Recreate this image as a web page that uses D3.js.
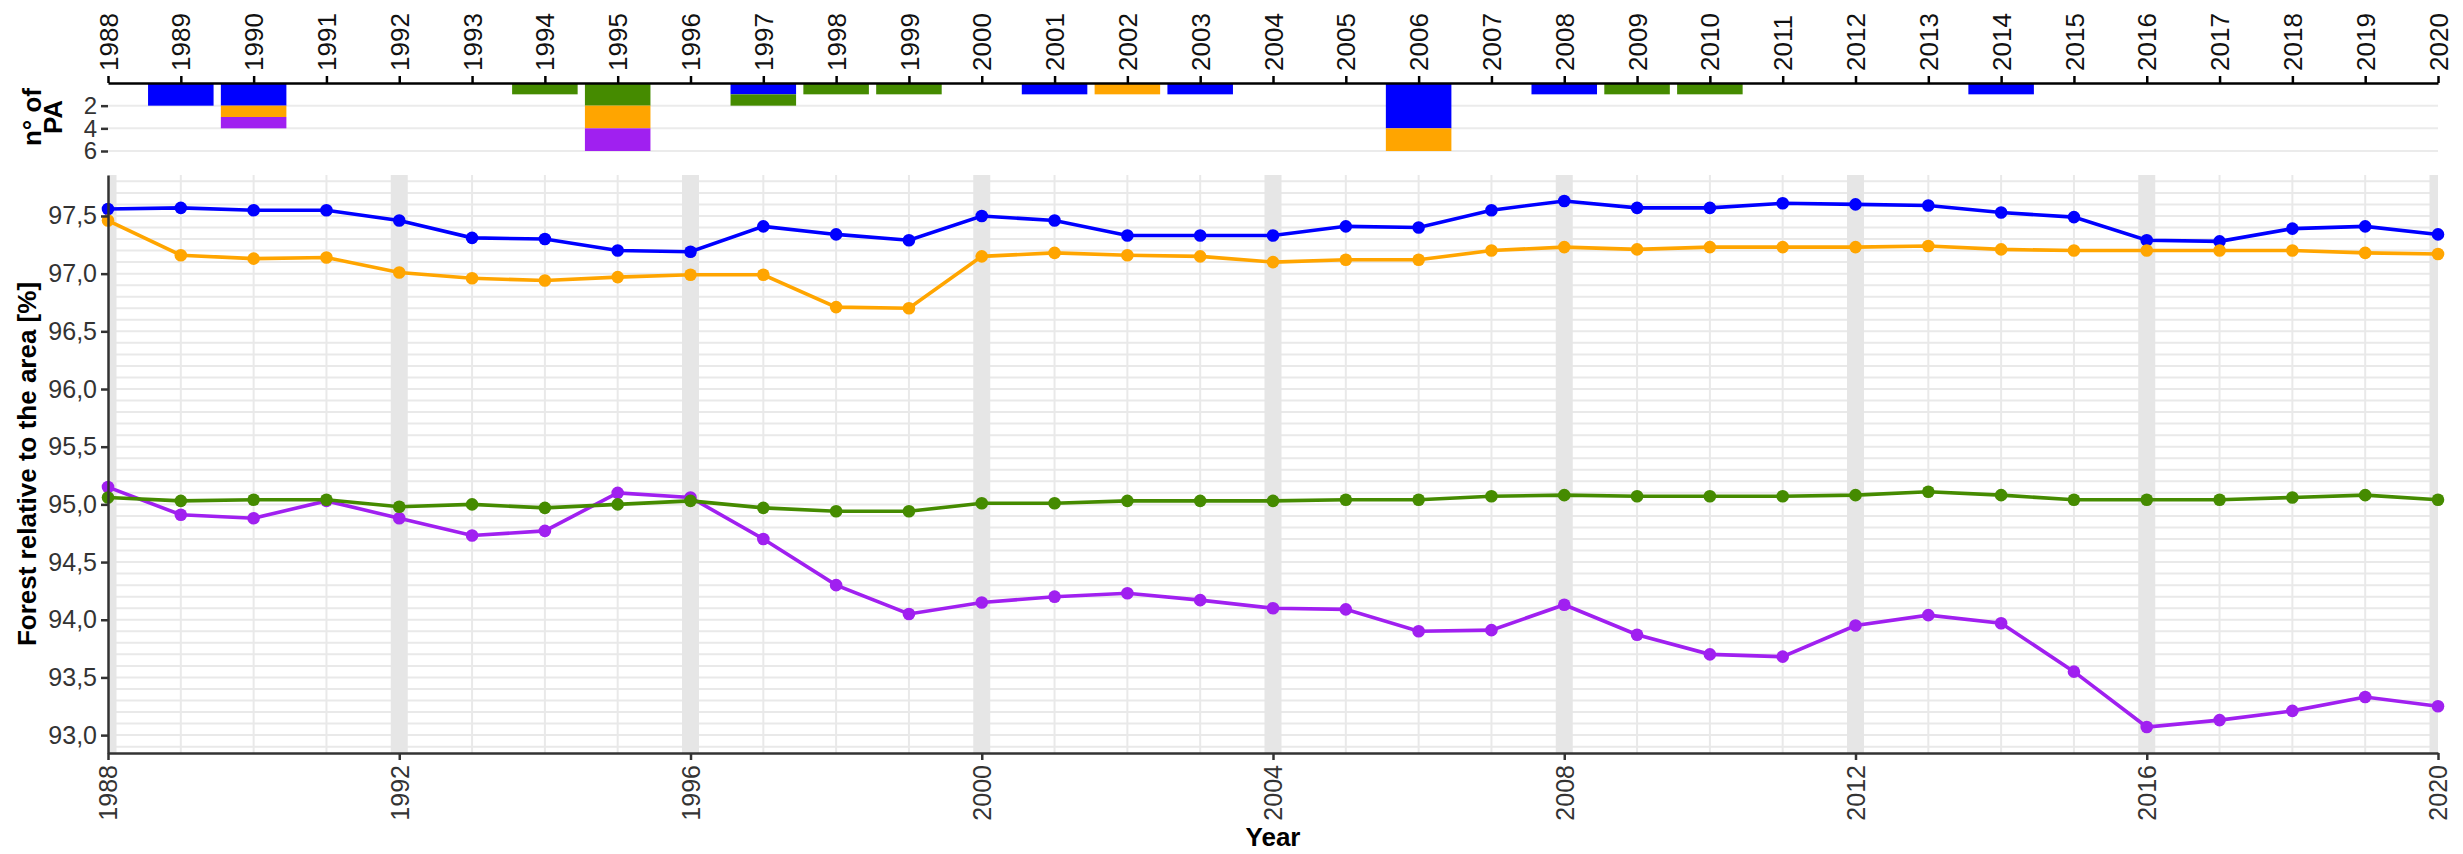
<!DOCTYPE html>
<html>
<head>
<meta charset="utf-8">
<script src="https://cdn.jsdelivr.net/npm/d3@7/dist/d3.min.js"></script>
<style>
    body { margin: 0; background: #fff; }
    text { font-family: "Liberation Sans", Arial, sans-serif; }
</style>
</head>
<body>
<div id="chart"></div>
<script>
// Data
var years = [1988, 1989, 1990, 1991, 1992, 1993, 1994, 1995, 1996, 1997, 1998, 1999, 2000,
             2001, 2002, 2003, 2004, 2005, 2006, 2007, 2008, 2009, 2010, 2011, 2012, 2013,
             2014, 2015, 2016, 2017, 2018, 2019, 2020];

var forestBlue = [97.56, 97.57, 97.55, 97.55, 97.46, 97.31, 97.30, 97.20, 97.19, 97.41, 97.34, 97.29, 97.50,
                  97.46, 97.33, 97.33, 97.33, 97.41, 97.40, 97.55, 97.63, 97.57, 97.57, 97.61, 97.60, 97.59,
                  97.53, 97.49, 97.29, 97.28, 97.39, 97.41, 97.34];
var forestOrange = [97.46, 97.16, 97.13, 97.14, 97.01, 96.96, 96.94, 96.97, 96.99, 96.99, 96.71, 96.70, 97.15,
                    97.18, 97.16, 97.15, 97.10, 97.12, 97.12, 97.20, 97.23, 97.21, 97.23, 97.23, 97.23, 97.24,
                    97.21, 97.20, 97.20, 97.20, 97.20, 97.18, 97.17];
var forestGreen = [95.06, 95.03, 95.04, 95.04, 94.98, 95.00, 94.97, 95.00, 95.03, 94.97, 94.94, 94.94, 95.01,
                   95.01, 95.03, 95.03, 95.03, 95.04, 95.04, 95.07, 95.08, 95.07, 95.07, 95.07, 95.08, 95.11,
                   95.08, 95.04, 95.04, 95.04, 95.06, 95.08, 95.04];
var forestPurple = [95.15, 94.91, 94.88, 95.03, 94.88, 94.73, 94.77, 95.10, 95.06, 94.70, 94.30, 94.05, 94.15,
                    94.20, 94.23, 94.17, 94.10, 94.09, 93.90, 93.91, 94.13, 93.87, 93.70, 93.68, 93.95, 94.04,
                    93.97, 93.55, 93.07, 93.13, 93.21, 93.33, 93.25];

// number of protected areas per year (stacked bars)
var paYears  = [1989, 1990, 1994, 1995, 1997, 1998, 1999, 2001, 2002, 2003, 2006, 2008, 2009, 2010, 2014];
var paBlue   = [2, 2, 0, 0, 1, 0, 0, 1, 0, 1, 4, 1, 0, 0, 1];
var paGreen  = [0, 0, 1, 2, 1, 1, 1, 0, 0, 0, 0, 0, 1, 1, 0];
var paOrange = [0, 1, 0, 2, 0, 0, 0, 0, 1, 0, 2, 0, 0, 0, 0];
var paPurple = [0, 1, 0, 2, 0, 0, 0, 0, 0, 0, 0, 0, 0, 0, 0];

var seriesKeys = ['blue', 'green', 'orange', 'purple'];
var seriesColors = {blue: '#0000ff', green: '#458b00', orange: '#ffa500', purple: '#a020f0'};

var yTicks = [93.0, 93.5, 94.0, 94.5, 95.0, 95.5, 96.0, 96.5, 97.0, 97.5];
var xMainTicks = [1988, 1992, 1996, 2000, 2004, 2008, 2012, 2016, 2020];
var paTicks = [2, 4, 6];

// Global vars
var svg, xScale, barYScale, mainYScale;
var W = 2463, H = 854;
var plotLeft = 108, plotRight = 2438;
var barTop = 83, barBottom = 151;
var mainTop = 175, mainBottom = 753;

function setupSvg() {
    svg = d3.select('#chart').append('svg')
        .attr('width', W)
        .attr('height', H);

    svg.append('defs').append('clipPath').attr('id', 'main-clip')
        .append('rect')
        .attr('x', plotLeft).attr('y', mainTop)
        .attr('width', plotRight - plotLeft).attr('height', mainBottom - mainTop);

    // Scales setup
    xScale = d3.scaleLinear().domain([1988, 2020]).range([plotLeft, plotRight]);
    barYScale = d3.scaleLinear().domain([0, 6]).range([barTop, barBottom]);
    mainYScale = d3.scaleLinear().domain([92.845, 97.855]).range([mainBottom, mainTop]);
}

function styleAxis(g) {
    g.selectAll('.domain').attr('stroke', '#333').attr('stroke-width', 2.5);
    g.selectAll('.tick line').attr('stroke', '#333').attr('stroke-width', 2.5);
    g.selectAll('.tick text').attr('fill', '#333').style('font-size', '25px');
}

function drawBarChart() {
    var barG = svg.append('g').attr('class', 'bar-chart');

    // horizontal grid
    barG.selectAll('line.grid').data(paTicks).enter().append('line')
        .attr('class', 'grid')
        .attr('x1', plotLeft).attr('x2', plotRight)
        .attr('y1', (d) => barYScale(d)).attr('y2', (d) => barYScale(d))
        .attr('stroke', '#ebebeb').attr('stroke-width', 2);

    var rows = paYears.map(function(y, i) {
        return {year: y, blue: paBlue[i], green: paGreen[i], orange: paOrange[i], purple: paPurple[i]};
    });
    var stacked = d3.stack().keys(seriesKeys)(rows);
    var bw = (xScale(1989) - xScale(1988)) * 0.9;

    barG.selectAll('g.layer').data(stacked).enter().append('g')
        .attr('class', 'layer')
        .attr('fill', (d) => seriesColors[d.key])
        .selectAll('rect').data((d) => d.filter((e) => e[1] > e[0])).enter().append('rect')
        .attr('x', (d) => xScale(d.data.year) - bw / 2)
        .attr('width', bw)
        .attr('y', (d) => barYScale(d[0]))
        .attr('height', (d) => barYScale(d[1]) - barYScale(d[0]));

    // Axis setup
    var topAxis = d3.axisTop(xScale).tickValues(years).tickFormat(d3.format('d')).tickSize(7).tickSizeOuter(0);
    var gTop = barG.append('g').attr('transform', `translate(0,${barTop})`).call(topAxis);
    styleAxis(gTop);
    gTop.selectAll('.domain').attr('stroke', '#000');
    gTop.selectAll('.tick line').attr('stroke', '#000');
    gTop.selectAll('.tick text')
        .attr('fill', '#111')
        .style('font-size', '26px')
        .attr('transform', 'rotate(-90)')
        .attr('x', 12).attr('y', 0).attr('dy', '0.35em')
        .style('text-anchor', 'start');

    var leftAxis = d3.axisLeft(barYScale).tickValues(paTicks).tickFormat(d3.format('d')).tickSize(7).tickPadding(4);
    var gLeft = barG.append('g').attr('transform', `translate(${plotLeft},0)`).call(leftAxis);
    styleAxis(gLeft);
    gLeft.selectAll('.tick text').style('font-size', '24px');
    gLeft.select('.domain').remove();

    // y title
    var title = barG.append('text')
        .attr('transform', `translate(0,${(barTop + barBottom) / 2}) rotate(-90)`)
        .attr('text-anchor', 'middle')
        .style('font-size', '26px').style('font-weight', 'bold').attr('fill', '#000');
    title.append('tspan').attr('x', 0).attr('y', 41).text('n° of');
    title.append('tspan').attr('x', 0).attr('y', 62).text('PA');
}

function drawMainChart() {
    var mainG = svg.append('g').attr('class', 'main-chart');
    var gridG = mainG.append('g').attr('clip-path', 'url(#main-clip)');

    // minor + major horizontal grid, every 0.1
    gridG.selectAll('line.hgrid').data(mainYScale.ticks(50)).enter().append('line')
        .attr('class', 'hgrid')
        .attr('x1', plotLeft).attr('x2', plotRight)
        .attr('y1', (d) => mainYScale(d)).attr('y2', (d) => mainYScale(d))
        .attr('stroke', '#e9e9e9').attr('stroke-width', 2);

    gridG.selectAll('line.vgrid').data(years).enter().append('line')
        .attr('class', 'vgrid')
        .attr('x1', (d) => xScale(d)).attr('x2', (d) => xScale(d))
        .attr('y1', mainTop).attr('y2', mainBottom)
        .attr('stroke', '#e9e9e9').attr('stroke-width', 2);

    // grey bands every 4 years
    gridG.selectAll('rect.band').data(xMainTicks).enter().append('rect')
        .attr('class', 'band')
        .attr('x', (d) => xScale(d) - 8.5).attr('width', 17)
        .attr('y', mainTop).attr('height', mainBottom - mainTop)
        .attr('fill', '#e6e6e6');

    var series = [
        {key: 'blue', values: forestBlue},
        {key: 'orange', values: forestOrange},
        {key: 'purple', values: forestPurple},
        {key: 'green', values: forestGreen}
    ];

    var lineGen = d3.line()
        .x((d, i) => xScale(years[i]))
        .y((d) => mainYScale(d));

    var dataG = mainG.append('g');
    series.forEach(function(s) {
        dataG.append('path')
            .attr('d', lineGen(s.values))
            .attr('fill', 'none')
            .attr('stroke', seriesColors[s.key])
            .attr('stroke-width', 3.6);
        dataG.selectAll('circle.' + s.key).data(s.values).enter().append('circle')
            .attr('class', s.key)
            .attr('cx', (d, i) => xScale(years[i]))
            .attr('cy', (d) => mainYScale(d))
            .attr('r', 6.3)
            .attr('fill', seriesColors[s.key]);
    });

    // Axis setup
    var yAxis = d3.axisLeft(mainYScale).tickValues(yTicks).tickSize(7).tickPadding(4).tickSizeOuter(0)
        .tickFormat((d) => d3.format('.1f')(d).replace('.', ','));
    var gY = mainG.append('g').attr('transform', `translate(${plotLeft},0)`).call(yAxis);
    styleAxis(gY);

    var xAxis = d3.axisBottom(xScale).tickValues(xMainTicks).tickFormat(d3.format('d')).tickSize(7).tickSizeOuter(0);
    var gX = mainG.append('g').attr('transform', `translate(0,${mainBottom})`).call(xAxis);
    styleAxis(gX);
    gX.selectAll('.tick text')
        .attr('transform', 'rotate(-90)')
        .attr('x', -12).attr('y', 0).attr('dy', '0.35em')
        .style('text-anchor', 'end');

    // titles
    mainG.append('text')
        .attr('transform', `translate(36,${(mainTop + mainBottom) / 2}) rotate(-90)`)
        .attr('text-anchor', 'middle')
        .style('font-size', '26px').style('font-weight', 'bold')
        .text('Forest relative to the area [%]');

    mainG.append('text')
        .attr('x', (plotLeft + plotRight) / 2).attr('y', 846)
        .attr('text-anchor', 'middle')
        .style('font-size', '26px').style('font-weight', 'bold')
        .text('Year');
}

setupSvg();
drawMainChart();
drawBarChart();
</script>
</body>
</html>
